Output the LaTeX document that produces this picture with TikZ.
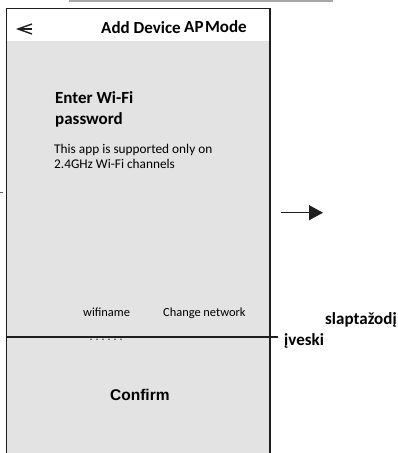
\documentclass[tikz,border=0pt]{standalone}
\usepackage{fontspec}
\newfontfamily\calib{Carlito}
\newfontfamily\arialf{Liberation Sans}
\usetikzlibrary{arrows.meta}
\definecolor{screengray}{HTML}{E3E3E3}
\definecolor{framegray}{HTML}{1E1E1E}
\definecolor{rulegray}{HTML}{A8A8A8}

\begin{document}
\begin{tikzpicture}[x=1pt, y=-1pt, boldtext/.style={font=\calib\bfseries\fontsize{17}{20}\selectfont, anchor=base west, inner sep=0pt}, smalltext/.style={font=\calib\fontsize{13.3}{16}\selectfont, anchor=base west, inner sep=0pt}, labeltext/.style={font=\calib\fontsize{12.4}{15}\selectfont, anchor=base west, inner sep=0pt}, frameline/.style={draw=framegray, line width=1.3pt}]
\useasboundingbox (0,0) rectangle (398,453);

% screen
\fill[screengray] (6.7,41) rectangle (270,453);
\draw[frameline] (6.7,453) -- (6.7,8.3) -- (270,8.3) -- (270,453);
\draw[rulegray, line width=2pt] (69,1) -- (333,1);
\draw[framegray!70, line width=0.8pt] (0,192.7) -- (2.5,192.7);

% header
\coordinate (backtip) at (18,29);
\coordinate (backend) at (32,29);
\draw[framegray, line width=1.4pt, line join=miter] (32,24) -- (backtip) -- (32,34);
\draw[framegray, line width=1.4pt] (backtip) -- (backend);
\node[boldtext] (title) at (101,33) {Add Device};
\node[boldtext] (mode) at (184,32) {AP\kern1.5pt Mode};

% texts
\node[boldtext] (enter) at (55,103) {Enter Wi-Fi};
\node[boldtext] (pass) at (55,124) {password};
\node[smalltext] (info1) at (54,153) {This app is supported only on};
\node[smalltext] (info2) at (54,168) {2.4GHz Wi-Fi channels};
\node[labeltext] (wifi) at (83,316) {wifiname};
\node[labeltext] (change) at (163,316) {Change network};

% password field
\coordinate (fieldstart) at (6.7,337);
\coordinate (fieldend) at (278,337);
\draw[framegray, line width=1.2pt] (fieldstart) -- (fieldend);
\foreach \i in {0,...,5}
  \fill[framegray!80] (91+6*\i,339.2) circle (0.8);
\node[boldtext] (slapt) at (325,324) {slaptažodį};
\node[boldtext] (iveski) at (284,345) {įveski};

\node[font=\arialf\bfseries\fontsize{15.5}{18}\selectfont, anchor=base west, inner sep=0pt] (confirm) at (110,400) {Confirm};

% arrow
\coordinate (arrfrom) at (281,212.7);
\coordinate (arrto) at (323,212.7);
\draw[framegray, line width=1pt, -{Triangle[length=14pt,width=15pt]}] (arrfrom) -- (arrto);

\end{tikzpicture}
\end{document}
